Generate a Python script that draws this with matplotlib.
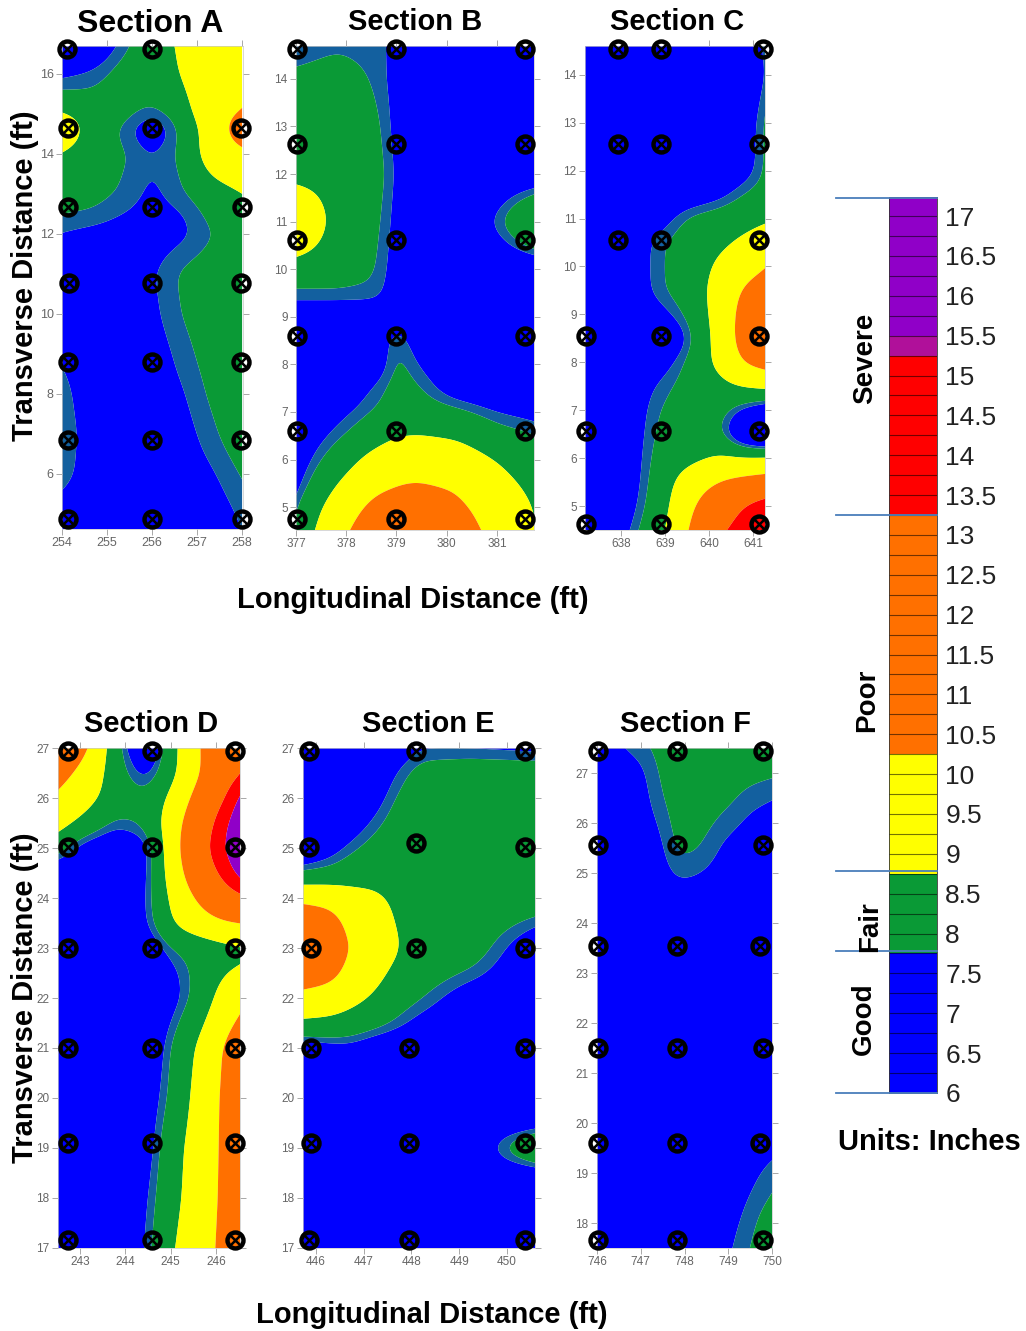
import numpy as np
import matplotlib
matplotlib.use("Agg")
import matplotlib.pyplot as plt
from matplotlib.lines import Line2D

plt.rcParams['font.family'] = ['Liberation Sans', 'DejaVu Sans']
W, H = 1026, 1331

COLORS = ['#0000ff', '#13609f', '#0a9a36', '#ffff00', '#ff7000', '#ff0000', '#9000c8']

# ---------- Section A
a_x = [254, 254.67, 255.33, 256, 256.67, 257.33, 258]
a_y = [16.7, 16, 15, 14.65, 14, 13, 12.5, 12, 11, 10, 9, 8, 7, 6, 5, 4.625]
a_z = [
 [5.5, 6.2, 7.6, 8.3, 8.9, 9.6, 9.7],
 [7.2, 7.5, 8.1, 8.2, 8.8, 9.7, 9.9],
 [8.6, 8.2, 8.1, 7.6, 8.3, 9.6, 10.2],
 [10.2, 8.1, 7.7, 6.3, 8.0, 9.3, 11.4],
 [8.5, 8.1, 7.9, 7.3, 7.9, 9.4, 9.8],
 [8.1, 8.0, 7.7, 7.1, 7.7, 8.3, 8.7],
 [7.8, 7.7, 7.3, 7.0, 7.2, 8.0, 8.4],
 [7.2, 7.0, 6.9, 6.9, 7.1, 7.7, 8.2],
 [6.9, 6.9, 6.9, 7.2, 7.9, 8.2, 8.4],
 [6.9, 6.9, 6.9, 7.1, 7.8, 8.2, 8.4],
 [7.2, 6.9, 6.9, 6.9, 7.5, 8.1, 8.4],
 [7.5, 6.9, 6.9, 6.9, 7.2, 7.9, 8.4],
 [7.6, 7.0, 6.9, 6.9, 7.0, 7.6, 8.3],
 [7.5, 7.0, 6.9, 6.9, 6.9, 7.2, 7.8],
 [7.0, 6.9, 6.9, 6.9, 6.9, 6.9, 7.4],
 [6.9, 6.9, 6.9, 6.9, 6.9, 6.9, 7.3],
]
a_pts_x = [254.12, 256, 254.13, 256, 257.97, 254.13, 256, 258, 254.16, 256, 257.97,
           254.13, 256, 257.97, 254.13, 256, 257.97, 254.13, 256, 258]
a_pts_y = [16.62, 16.62, 14.65, 14.65, 14.65, 12.67, 12.67, 12.67, 10.77, 10.77, 10.77,
           8.8, 8.8, 8.8, 6.85, 6.85, 6.85, 4.87, 4.87, 4.87]

# ---------- Section B
b_x = [377, 377.8, 378.6, 379.02, 379.4, 380.2, 381, 381.75]
b_y = [14.69, 14, 13, 12, 11, 10, 9.4, 8.9, 8.6, 8, 7.5, 7, 6.5, 6, 5.5, 5, 4.52]
b_z = [
 [7.5, 7.7, 7.6, 7.4, 7.0, 6.9, 6.9, 6.9],
 [7.9, 8.0, 7.7, 7.3, 6.9, 6.9, 6.9, 6.9],
 [8.2, 8.2, 7.9, 7.3, 6.9, 6.9, 6.9, 6.9],
 [8.2, 8.3, 8.0, 7.4, 6.9, 6.9, 6.9, 6.9],
 [10.6, 8.2, 7.9, 7.3, 6.9, 6.9, 7.6, 8.9],
 [8.1, 8.1, 7.8, 7.2, 6.9, 6.9, 6.9, 6.9],
 [7.6, 7.6, 7.6, 7.2, 6.9, 6.9, 6.9, 6.9],
 [6.9, 6.9, 6.9, 7.2, 6.9, 6.9, 6.9, 6.9],
 [6.9, 6.9, 7.0, 7.9, 7.1, 6.9, 6.9, 6.9],
 [6.9, 6.9, 7.0, 8.0, 7.5, 6.9, 6.9, 6.9],
 [6.9, 6.9, 7.6, 8.0, 7.85, 7.1, 6.9, 6.9],
 [7.0, 7.3, 7.8, 8.0, 8.1, 7.9, 7.5, 7.3],
 [7.0, 7.6, 8.3, 8.7, 8.75, 8.6, 8.0, 7.8],
 [7.1, 8.1, 9.2, 9.6, 9.7, 9.4, 8.7, 8.0],
 [7.3, 8.7, 9.9, 10.2, 10.3, 10.1, 9.2, 8.4],
 [7.7, 9.3, 10.7, 10.8, 10.9, 10.5, 9.7, 8.7],
 [7.9, 9.7, 11.3, 11.0, 11.1, 10.8, 9.9, 8.8],
]
b_pts_x = [377.02, 378.99, 381.56] * 6
b_pts_y = [14.63] * 3 + [12.63] * 3 + [10.61] * 3 + [8.6] * 3 + [6.6] * 3 + [4.75] * 3

# ---------- Section C
c_x = [637.18, 637.98, 638.89, 639.57, 640.25, 640.82, 641.27]
c_y = [14.6, 14, 13, 12, 11.5, 11, 10.5, 10, 9.5, 9, 8.5, 8, 7.5, 7, 6.5, 6, 5.5, 5, 4.5]
c_z = [
 [6.9, 6.9, 6.9, 6.9, 6.9, 6.9, 7.6],
 [6.9, 6.9, 6.9, 6.9, 6.9, 6.9, 7.5],
 [6.9, 6.9, 6.9, 6.9, 6.9, 7.1, 7.8],
 [6.9, 6.9, 6.9, 6.9, 6.9, 7.2, 7.8],
 [6.9, 6.9, 6.9, 7.0, 7.3, 7.8, 8.0],
 [6.9, 6.9, 7.2, 7.9, 8.1, 8.3, 8.5],
 [6.9, 6.9, 7.7, 8.1, 8.5, 9.0, 9.5],
 [6.9, 6.9, 7.7, 8.1, 9.0, 9.7, 10.2],
 [6.9, 6.9, 7.7, 8.1, 9.3, 10.5, 10.9],
 [6.9, 6.9, 7.3, 7.9, 9.3, 10.9, 11.5],
 [6.9, 6.9, 6.7, 7.5, 9.3, 11.0, 11.5],
 [6.9, 6.9, 7.2, 7.9, 9.1, 10.5, 10.9],
 [6.9, 6.9, 7.6, 8.0, 8.4, 8.8, 9.0],
 [6.9, 6.9, 7.8, 8.0, 8.0, 7.3, 6.9],
 [6.9, 6.9, 7.9, 8.0, 7.9, 6.2, 5.8],
 [6.9, 6.9, 8.0, 8.4, 8.9, 8.9, 9.0],
 [6.9, 6.9, 8.1, 9.5, 10.3, 10.6, 10.8],
 [6.9, 7.0, 8.2, 10.0, 11.5, 13.5, 14.5],
 [6.9, 7.2, 8.4, 10.3, 12.8, 14.5, 15.3],
]
c_pts_x = [637.93, 638.91, 641.23, 637.93, 638.91, 641.14, 637.93, 638.91, 641.14,
           637.2, 638.91, 641.14, 637.2, 638.91, 641.14, 637.2, 638.91, 641.14]
c_pts_y = [14.54] * 3 + [12.56] * 3 + [10.56] * 3 + [8.55] * 3 + [6.57] * 3 + [4.63] * 3

# ---------- Section D
d_x = [242.51, 243.11, 243.77, 244.48, 245.1, 245.76, 246.2, 246.53]
d_y = [27, 26.5, 26, 25.5, 25, 24.5, 24, 23.5, 23, 22.5, 22, 21, 20, 19, 18, 17]
d_z = [
 [11.5, 10.6, 8.0, 6.6, 8.6, 10.6, 11.5, 12.5],
 [10.8, 9.8, 8.1, 7.2, 8.6, 10.5, 12.0, 12.9],
 [10.0, 9.2, 8.2, 7.9, 9.2, 11.3, 13.0, 15.6],
 [9.2, 8.4, 7.6, 7.9, 9.7, 12.1, 14.8, 17.0],
 [8.0, 7.1, 6.9, 7.2, 9.8, 12.8, 15.3, 17.5],
 [6.9, 6.9, 6.9, 7.3, 9.6, 12.0, 14.0, 16.0],
 [6.9, 6.9, 6.9, 7.4, 9.2, 10.8, 12.0, 12.6],
 [6.9, 6.9, 6.9, 7.4, 8.9, 9.7, 10.1, 10.2],
 [6.9, 6.9, 6.9, 7.0, 7.8, 8.1, 8.3, 8.4],
 [6.9, 6.9, 6.9, 6.9, 7.4, 8.1, 8.7, 8.9],
 [6.9, 6.9, 6.9, 6.9, 7.3, 8.2, 9.4, 9.9],
 [6.9, 6.9, 6.9, 6.9, 7.9, 9.2, 10.5, 11.0],
 [6.9, 6.9, 6.9, 7.1, 8.0, 9.5, 10.6, 11.0],
 [6.9, 6.9, 6.9, 7.2, 8.4, 9.6, 10.6, 11.0],
 [6.9, 6.9, 6.9, 7.4, 8.5, 9.7, 10.6, 11.0],
 [6.9, 6.9, 6.9, 7.5, 8.8, 9.8, 10.7, 11.0],
]
d_pts_x = [242.74, 244.59, 246.42] * 6
d_pts_y = [26.94] * 3 + [25.02] * 3 + [23] * 3 + [21] * 3 + [19.1] * 3 + [17.16] * 3

# ---------- Section E
e_x = [445.73, 446.3, 446.71, 447.24, 447.66, 448.18, 449.23, 450.59]
e_y = [27, 26.5, 26, 25.5, 25, 24.5, 24, 23.5, 23, 22.5, 22, 21.5, 21, 20.5, 20, 19.5, 19, 18.5, 18, 17]
e_z = [
 [6.9, 6.9, 6.9, 6.9, 7.0, 7.5, 7.5, 7.4],
 [6.9, 6.9, 6.9, 6.9, 7.5, 8.0, 8.1, 8.1],
 [6.9, 6.9, 6.9, 7.2, 7.8, 8.1, 8.2, 8.2],
 [6.9, 6.9, 7.1, 7.6, 8.0, 8.2, 8.3, 8.3],
 [6.9, 7.2, 7.6, 8.0, 8.2, 8.3, 8.3, 8.3],
 [7.7, 7.9, 8.2, 8.4, 8.4, 8.3, 8.3, 8.3],
 [9.9, 9.7, 9.2, 8.9, 8.6, 8.3, 8.3, 8.2],
 [11.5, 11.0, 9.8, 9.3, 8.7, 8.3, 8.2, 7.6],
 [12.2, 11.3, 10.2, 9.5, 8.9, 8.2, 8.1, 7.0],
 [11.3, 10.8, 9.8, 9.1, 8.5, 8.1, 7.7, 6.9],
 [9.7, 9.5, 9.1, 8.6, 8.1, 7.8, 7.1, 6.9],
 [8.6, 8.5, 8.3, 8.0, 7.7, 7.3, 6.9, 6.9],
 [7.0, 7.2, 7.3, 7.0, 6.9, 6.9, 6.9, 6.9],
 [6.9, 6.9, 6.9, 6.9, 6.9, 6.9, 6.9, 6.9],
 [6.9, 6.9, 6.9, 6.9, 6.9, 6.9, 6.9, 6.9],
 [6.9, 6.9, 6.9, 6.9, 6.9, 6.9, 6.9, 7.0],
 [6.9, 6.9, 6.9, 6.9, 6.9, 6.9, 6.9, 8.8],
 [6.9, 6.9, 6.9, 6.9, 6.9, 6.9, 6.9, 7.0],
 [6.9, 6.9, 6.9, 6.9, 6.9, 6.9, 6.9, 6.9],
 [6.9, 6.9, 6.9, 6.9, 6.9, 6.9, 6.9, 6.9],
]
e_pts_x = [445.85, 448.09, 450.38, 445.85, 448.09, 450.38, 445.9, 448.09, 450.38,
           445.9, 447.95, 450.38, 445.9, 447.95, 450.38, 445.85, 447.95, 450.38]
e_pts_y = [26.94] * 3 + [25.02, 25.1, 25.02] + [23] * 3 + [21] * 3 + [19.1] * 3 + [17.16] * 3

# ---------- Section F
f_x = [746, 746.98, 747.44, 747.83, 748.35, 749.04, 749.5, 750]
f_y = [27.5, 27, 26.5, 26, 25.5, 25, 24.5, 22, 20, 19.5, 19, 18.5, 18, 17.5]
f_z = [
 [6.9, 7.5, 8.0, 8.1, 8.1, 8.1, 8.1, 8.1],
 [6.9, 7.0, 7.9, 8.1, 8.1, 8.1, 8.0, 7.9],
 [6.9, 6.9, 7.7, 8.1, 8.1, 7.9, 7.5, 7.3],
 [6.9, 6.9, 7.3, 8.1, 8.0, 7.5, 7.1, 7.0],
 [6.9, 6.9, 7.0, 8.0, 7.8, 7.0, 6.9, 6.9],
 [6.9, 6.9, 6.9, 7.5, 7.3, 6.9, 6.9, 6.9],
 [6.9, 6.9, 6.9, 6.9, 6.9, 6.9, 6.9, 6.9],
 [6.9, 6.9, 6.9, 6.9, 6.9, 6.9, 6.9, 6.9],
 [6.9, 6.9, 6.9, 6.9, 6.9, 6.9, 6.9, 6.9],
 [6.9, 6.9, 6.9, 6.9, 6.9, 6.9, 6.9, 7.1],
 [6.9, 6.9, 6.9, 6.9, 6.9, 6.9, 7.1, 7.5],
 [6.9, 6.9, 6.9, 6.9, 6.9, 7.0, 7.3, 7.8],
 [6.9, 6.9, 6.9, 6.9, 6.9, 7.1, 7.5, 8.3],
 [6.9, 6.9, 6.9, 6.9, 6.9, 7.2, 7.7, 8.6],
]
f_pts_x = [746.02, 747.83, 749.79, 746.02, 747.83, 749.79, 746.02, 747.83, 749.73,
           746.02, 747.83, 749.79, 746.02, 747.83, 749.73, 746.02, 747.83, 749.79]
f_pts_y = [27.44] * 3 + [25.56] * 3 + [23.54] * 3 + [21.5] * 3 + [19.6] * 3 + [17.66] * 3

# ---------- Colour scale
scale_bounds = [7.75, 8.75, 10.25, 13.25, 15.25]
scale_colors = ['#0000ff', '#0a9a36', '#ffff00', '#ff7000', '#ff0000', '#9000c8']
scale_ticks = [6, 6.5, 7, 7.5, 8, 8.5, 9, 9.5, 10, 10.5, 11, 11.5, 12, 12.5, 13,
               13.5, 14, 14.5, 15, 15.5, 16, 16.5, 17]
scale_tick_labels = ['6', '6.5', '7', '7.5', '8', '8.5', '9', '9.5', '10', '10.5', '11', '11.5',
                     '12', '12.5', '13', '13.5', '14', '14.5', '15', '15.5', '16', '16.5', '17']
group_lines = [6.0, 7.78, 8.78, 13.25, 17.23]
group_names = ['Severe', 'Poor', 'Fair', 'Good']

fig = plt.figure(figsize=(W / 100, H / 100), dpi=100, facecolor='white')


def add_px_axes(x0, y0, x1, y1):
    return fig.add_axes([x0 / W, 1 - y1 / H, (x1 - x0) / W, (y1 - y0) / H])


def blur_1d(a, sigma, axis):
    r = int(3 * sigma)
    k = np.exp(-0.5 * (np.arange(-r, r + 1) / sigma) ** 2)
    k /= k.sum()
    pad = [(0, 0), (0, 0)]
    pad[axis] = (r, r)
    p = np.pad(a, pad, mode='reflect', reflect_type='odd')
    return np.apply_along_axis(lambda v: np.convolve(v, k, mode='valid'), axis, p)


def fine_field(gx, gy, gz, nx, ny, sigma=9.0):
    gx = np.array(gx, float)
    gy = np.array(gy, float)[::-1]
    z = np.array(gz, float)[::-1]
    fx = np.linspace(gx[0], gx[-1], nx)
    fy = np.linspace(gy[0], gy[-1], ny)
    t = np.array([np.interp(fx, gx, row) for row in z])
    f = np.array([np.interp(fy, gy, col) for col in t.T]).T
    f = blur_1d(blur_1d(f, sigma, 0), sigma, 1)
    return fx, fy, f


def section(box, xlim, ylim, gx, gy, gz, px, py, xticks, yticks, title, tx, ty, tsize=21, tickfs=8.5,
            sigma=9.0, teal=7.5):
    ax = add_px_axes(*box)
    nx = int(box[2] - box[0]) + 1
    ny = int(box[3] - box[1]) + 1
    fx, fy, f = fine_field(gx, gy, gz, nx, ny, sigma)
    levels = [0, teal, 7.75, 8.75, 10.25, 13.25, 15.25, 30]
    ax.contourf(fx, fy, f, levels=levels, colors=COLORS, antialiased=True)
    ax.set_xlim(*xlim)
    ax.set_ylim(*ylim)
    ax.set_xticks(xticks)
    ax.set_yticks(yticks)
    ax.tick_params(top=True, right=True, direction='out', length=4, width=0.6, color='#9a9a9a',
                   labelsize=tickfs, labelcolor='#666666', pad=2)
    for s in ax.spines.values():
        s.set_color('#c8c8c8')
        s.set_linewidth(0.5)
    ax.plot(px, py, ls='none', marker='o', ms=11.5, mew=3.2, mec='black', mfc='none', clip_on=False, zorder=5)
    ax.plot(px, py, ls='none', marker='x', ms=8.5, mew=1.8, mec='black', clip_on=False, zorder=5)
    fig.text(tx / W, 1 - ty / H, title, fontsize=tsize, fontweight='bold', ha='center', va='center', color='black')
    return ax


section((62, 46, 243, 529), (254, 258.02), (4.625, 16.7), a_x, a_y, a_z, a_pts_x, a_pts_y,
        [254, 255, 256, 257, 258], [6, 8, 10, 12, 14, 16], 'Section A', 150, 24, tsize=23, tickfs=9, teal=7.3)
section((296, 46, 534, 530), (377, 381.74), (4.52, 14.69), b_x, b_y, b_z, b_pts_x, b_pts_y,
        [377, 378, 379, 380, 381], list(range(5, 15)), 'Section B', 415, 22)
section((585, 46, 765, 530), (637.18, 641.27), (4.5, 14.6), c_x, c_y, c_z, c_pts_x, c_pts_y,
        [638, 639, 640, 641], list(range(5, 15)), 'Section C', 677, 22)
section((58, 748, 240, 1248), (242.51, 246.53), (17, 27), d_x, d_y, d_z, d_pts_x, d_pts_y,
        [243, 244, 245, 246], list(range(17, 28)), 'Section D', 151, 724)
section((303, 748, 535, 1248), (445.73, 450.59), (17, 27), e_x, e_y, e_z, e_pts_x, e_pts_y,
        [446, 447, 448, 449, 450], list(range(17, 28)), 'Section E', 428, 724)
section((597, 748, 772, 1248), (746, 750), (17.5, 27.5), f_x, f_y, f_z, f_pts_x, f_pts_y,
        [746, 747, 748, 749, 750], list(range(18, 28)), 'Section F', 686, 724, teal=7.3)

lab = dict(fontsize=21, fontweight='bold', ha='center', va='center', color='black')
fig.text(413 / W, 1 - 600 / H, 'Longitudinal Distance (ft)', **lab)
fig.text(432 / W, 1 - 1315 / H, 'Longitudinal Distance (ft)', **lab)
fig.text(25 / W, 1 - 276 / H, 'Transverse Distance (ft)', rotation=90, **lab)
fig.text(25 / W, 1 - 998 / H, 'Transverse Distance (ft)', rotation=90, **lab)

# colour scale
cb = add_px_axes(889, 197, 937, 1093)
edges = np.arange(6, 17.5, 0.25)
vals = np.array([(edges[:-1] + edges[1:]) / 2])
bins = np.digitize(vals[0], scale_bounds)
for lo, hi, b in zip(edges[:-1], edges[1:], bins):
    col = scale_colors[b]
    if lo == 15.25:
        col = '#b0109a'
    cb.fill_between([0, 1], lo, hi, color=col, lw=0)
    cb.plot([0, 1], [hi, hi], color='#000000', alpha=0.55, lw=0.8)
cb.set_xlim(0, 1)
cb.set_ylim(6, 17.24)
cb.set_xticks([])
cb.set_yticks(scale_ticks)
cb.set_yticklabels(scale_tick_labels)
cb.yaxis.tick_right()
cb.tick_params(axis='y', length=0, pad=6, labelsize=19, labelcolor='#222222')
for s in cb.spines.values():
    s.set_color('#333333')
    s.set_linewidth(0.6)

# group separators and names
for v in group_lines:
    ypx = 1093 - (v - 6) * 79.7
    fig.add_artist(Line2D([836 / W, 937 / W], [1 - ypx / H, 1 - ypx / H], color='#4a7ebb', lw=1.3))
for name, xp, yp in zip(group_names, [865, 867, 870, 864], [358, 700, 927, 1019]):
    fig.text(xp / W, 1 - yp / H, name, rotation=90, fontsize=20, fontweight='bold',
             ha='center', va='center', color='black')
fig.text(929 / W, 1 - 1142 / H, 'Units: Inches', fontsize=21, fontweight='bold',
         ha='center', va='center', color='black')

fig.savefig('out.png', dpi=100, facecolor='white')
